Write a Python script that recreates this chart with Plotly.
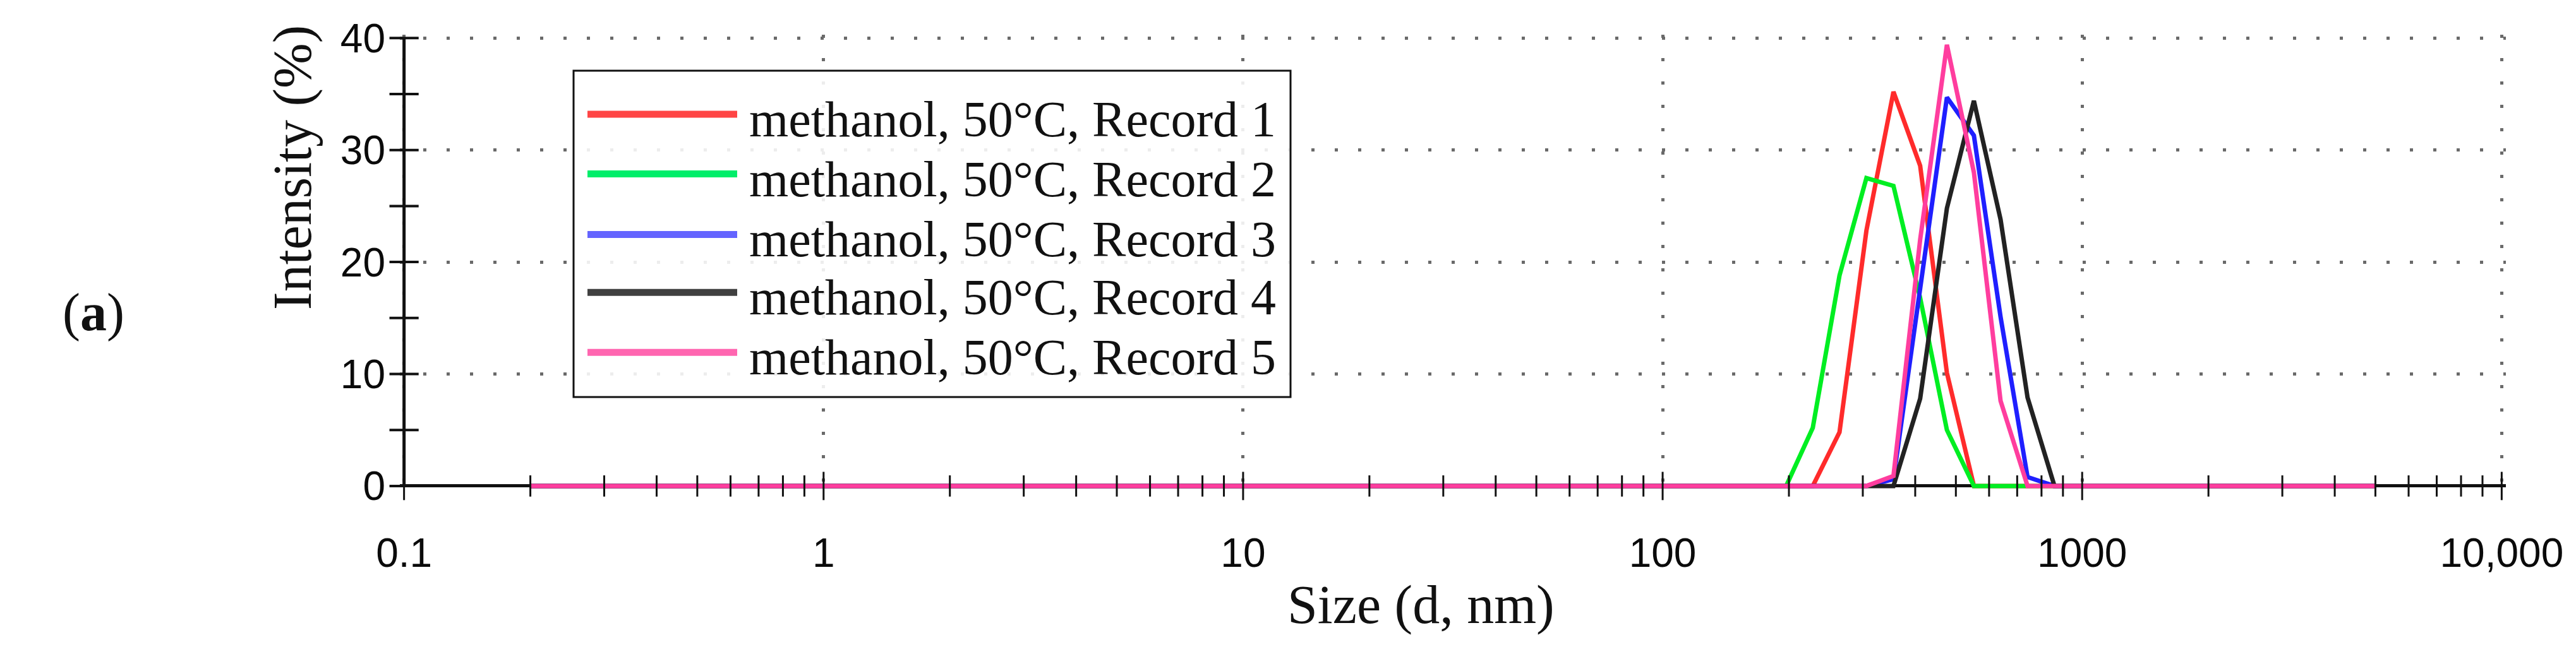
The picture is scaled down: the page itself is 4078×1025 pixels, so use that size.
import plotly.graph_objects as go

# ---------------- data ----------------
sizes_nm = [0.2, 197, 228, 264, 306, 355, 411, 476, 552, 639, 741, 859, 5000]
record1 = [0, 0, 0, 4.8, 22.8, 35.2, 28.6, 10.1, 0, 0, 0, 0, 0]
record2 = [0, 0, 5.2, 18.8, 27.5, 26.8, 16.8, 5.0, 0, 0, 0, 0, 0]
record3 = [0, 0, 0, 0, 0, 0.6, 17.5, 34.7, 31.3, 15.1, 0.8, 0, 0]
record4 = [0, 0, 0, 0, 0, 0, 7.8, 24.8, 34.4, 23.8, 7.9, 0, 0]
record5 = [0, 0, 0, 0, 0, 0.9, 22.0, 39.4, 28.0, 7.6, 0, 0, 0]

series_names = ["methanol, 50°C, Record 1", "methanol, 50°C, Record 2",
                "methanol, 50°C, Record 3", "methanol, 50°C, Record 4",
                "methanol, 50°C, Record 5"]
series_colors = ["#ff2b2b", "#00ee22", "#1f1fff", "#222222", "#ff3d9e"]
legend_colors = ["#ff4545", "#00ee6a", "#6464ff", "#404040", "#ff66b0"]

x_tickvals = [0.1, 1, 10, 100, 1000, 10000]
x_ticktext = ["0.1", "1", "10", "100", "1000", "10,000"]
y_tickvals = [0, 10, 20, 30, 40]
y_ticktext = ["0", "10", "20", "30", "40"]
y_all_ticks = [0, 5, 10, 15, 20, 25, 30, 35, 40]
x_minor_ticks = [k * 10 ** d for d in range(-1, 4) for k in range(2, 10)]

# ---------------- layout geometry ----------------
W, H = 4078, 1025
ML, MR, MT, MB = 625, 119, 47, 256
PW = W - ML - MR
PH = H - MT - MB
XR = [-1.01, 4.01]
YR = [-0.4, 40.3]


def px_x(px):
    return (px - ML) / PW


def px_y(py):
    return (MT + PH - py) / PH


SERIF = "Liberation Serif, Times New Roman, serif"
SANS = "Liberation Sans, Arial, sans-serif"

fig = go.Figure()
all_series = [record1, record2, record3, record4, record5]
for name, vals, col in zip(series_names, all_series, series_colors):
    fig.add_trace(go.Scatter(x=sizes_nm, y=vals, mode="lines", name=name,
                             line=dict(color=col, width=7), showlegend=False))

# crossing tick marks drawn over the axes
fig.add_trace(go.Scatter(x=x_tickvals, y=[0] * len(x_tickvals), mode="markers",
                         marker=dict(symbol="line-ns", size=32,
                                     line=dict(color="#111111", width=3)),
                         cliponaxis=False, showlegend=False, hoverinfo="skip"))
fig.add_trace(go.Scatter(x=x_minor_ticks, y=[0] * len(x_minor_ticks), mode="markers",
                         marker=dict(symbol="line-ns", size=24,
                                     line=dict(color="#111111", width=3)),
                         cliponaxis=False, showlegend=False, hoverinfo="skip"))
fig.add_trace(go.Scatter(x=[0.1] * len(y_all_ticks), y=y_all_ticks, mode="markers",
                         marker=dict(symbol="line-ew", size=33,
                                     line=dict(color="#111111", width=4)),
                         cliponaxis=False, showlegend=False, hoverinfo="skip"))

fig.update_xaxes(type="log", range=XR, tickvals=x_tickvals, ticktext=x_ticktext,
                 ticks="", showline=False, showgrid=True, gridcolor="#6a6a6a",
                 gridwidth=5, griddash="5px,32px", zeroline=False,
                 tickfont=dict(family=SANS, size=64, color="#0a0a0a"),
                 ticklabelstandoff=56)
fig.update_yaxes(range=YR, tickvals=y_tickvals, ticktext=y_ticktext, ticks="",
                 showline=False, showgrid=True, gridcolor="#6a6a6a", gridwidth=5,
                 griddash="5px,32px", zeroline=True, zerolinecolor="#111111",
                 zerolinewidth=5,
                 tickfont=dict(family=SANS, size=64, color="#0a0a0a"),
                 ticklabelstandoff=22)

shapes = []
# y axis line
shapes.append(dict(type="line", xref="paper", yref="y",
                   x0=0.01 / 5.02, x1=0.01 / 5.02, y0=0, y1=40,
                   line=dict(color="#111111", width=5), layer="above"))
# legend box
shapes.append(dict(type="rect", xref="paper", yref="paper",
                   x0=px_x(900), x1=px_x(2035), y0=px_y(621), y1=px_y(104),
                   line=dict(color="#111111", width=3),
                   fillcolor="rgba(255,255,255,0.88)", layer="above"))
annotations = []
legend_rows = [173, 267.5, 363.4, 455.3, 550.3]
for name, col, ry in zip(series_names, legend_colors, legend_rows):
    shapes.append(dict(type="line", xref="paper", yref="paper",
                       x0=px_x(922), x1=px_x(1159), y0=px_y(ry), y1=px_y(ry),
                       line=dict(color=col, width=11), layer="above"))
    annotations.append(dict(text=name, xref="paper", yref="paper",
                            x=px_x(1176), y=px_y(ry + 8), xanchor="left",
                            yanchor="middle", showarrow=False,
                            font=dict(family=SERIF, size=80, color="#111111")))

annotations.append(dict(text="Size (d, nm)", xref="paper", yref="paper",
                        x=px_x(2241), y=px_y(950), xanchor="center",
                        yanchor="middle", showarrow=False,
                        font=dict(family=SERIF, size=86, color="#111111")))
annotations.append(dict(text="Intensity (%)", xref="paper", yref="paper",
                        x=px_x(455), y=px_y(258), xanchor="center",
                        yanchor="middle", textangle=-90, showarrow=False,
                        font=dict(family=SERIF, size=86, color="#111111")))
annotations.append(dict(text="(<b>a</b>)", xref="paper", yref="paper",
                        x=px_x(140), y=px_y(487), xanchor="center",
                        yanchor="middle", showarrow=False,
                        font=dict(family=SERIF, size=84, color="#111111")))

fig.update_layout(width=W, height=H,
                  margin=dict(l=ML, r=MR, t=MT, b=MB, autoexpand=False),
                  plot_bgcolor="white", paper_bgcolor="white",
                  showlegend=False, shapes=shapes, annotations=annotations)

fig.write_html("out.html")
